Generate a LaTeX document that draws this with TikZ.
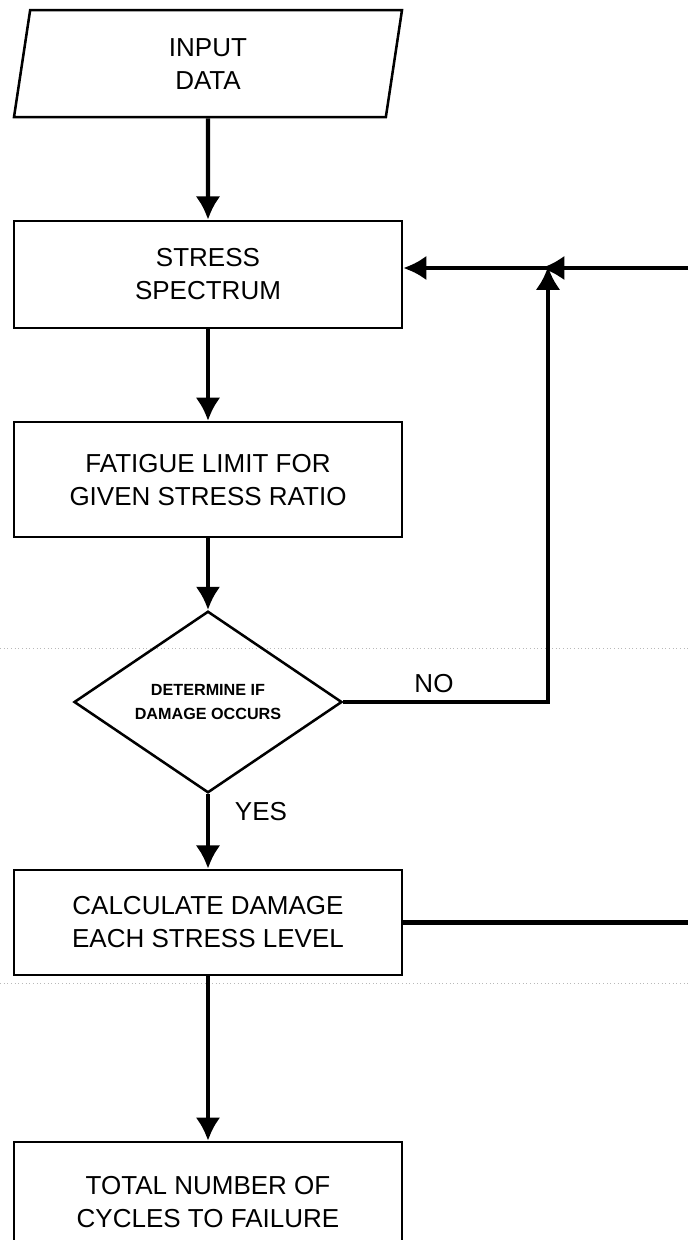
\documentclass[tikz,border=0pt]{standalone}
\usepackage{fontspec}
\setmainfont{Liberation Sans}
\usetikzlibrary{shapes.geometric,arrows.meta}
\tikzset{
	box/.style={draw, line width=1.8pt, minimum width=9.7cm, align=center, font=\fontsize{18.5}{23.5}\selectfont},
	datain/.style={box, trapezium, trapezium left angle=75, trapezium right angle=105, trapezium stretches body, minimum height=2.675cm},
	decision/.style={draw, diamond, line width=1.8pt, minimum width=6.7cm, minimum height=4.05cm, inner sep=0pt, align=center, font=\fontsize{11.5}{17}\selectfont\bfseries},
	flow/.style={line width=3pt, -{Latex[length=0.58cm,width=0.62cm]}},
	tag/.style={font=\fontsize{18.5}{23.5}\selectfont}
}

\begin{document}
\begin{tikzpicture}
			%%%%% START %%%%%
			\useasboundingbox (0, 0) rectangle (17.2, -31);
			\clip (0, 0) rectangle (17.2, -31);
			
			% scan lines
			\draw[gray!55, dotted, line width=0.6pt] (0, -16.2) -- (17.2, -16.2);
			\draw[gray!55, dotted, line width=0.6pt] (0, -24.58) -- (17.2, -24.58);
			
			\node[datain] (input) at (5.2, -1.59) {INPUT\\DATA};
			\node[box, minimum height=2.675cm] (stress) at (5.2, -6.86) {STRESS\\SPECTRUM};
			\node[box, minimum height=2.875cm] (fatigue) at (5.2, -11.99) {FATIGUE LIMIT FOR\\GIVEN STRESS RATIO};
			\node[decision] (dia) at (5.2, -17.55) {DETERMINE IF\\DAMAGE OCCURS};
			\node[box, minimum height=2.625cm] (calc) at (5.2, -23.06) {CALCULATE DAMAGE\\EACH STRESS LEVEL};
			\node[box, minimum height=3cm] (total) at (5.2, -30.05) {TOTAL NUMBER OF\\CYCLES TO FAILURE};
			
			\coordinate (join) at (13.7, -6.7);
			\coordinate (edgetop) at (17.2, -6.7);
			\coordinate (edgecalc) at (calc.east -| edgetop);
			
			\draw[flow] (input.south) -- (stress.north);
			\draw[flow] (stress.south) -- (fatigue.north);
			\draw[flow] (fatigue.south) -- (dia.north);
			\draw[flow] (dia.south) -- (calc.north);
			\draw[flow] (calc.south) -- (total.north);
			
			% feedback to the spectrum
			\draw[flow, shorten >=-1pt] (dia.east) -| (join);
			\draw[flow, shorten >=-0.17cm] (edgetop) -- (join);
			\draw[flow] (join) -- (stress.east |- join);
			\draw[line width=3pt] (calc.east) -- (edgecalc);
			
			\node[tag] (no) at (10.85, -17.08) {NO};
			\node[tag, anchor=west] (yes) at (5.75, -20.3) {YES};
			
			%%%%% END %%%%%
\end{tikzpicture}
\end{document}
